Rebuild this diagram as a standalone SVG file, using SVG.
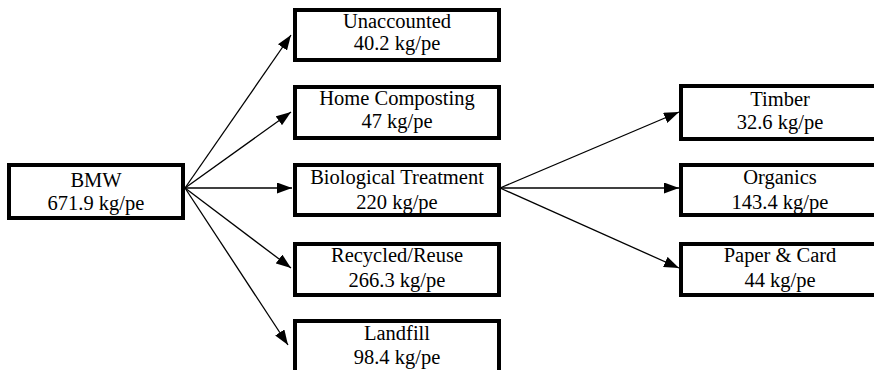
<svg xmlns="http://www.w3.org/2000/svg" width="874" height="370" viewBox="0 0 874 370">
<defs>
<style>
.box{fill:#fff;stroke:#000;stroke-width:4}
.t{font-family:"Liberation Serif","Times New Roman",serif;font-size:20.5px;fill:#000;text-anchor:middle}
.c{stroke:#000;stroke-width:1.3;fill:none;marker-end:url(#ah)}
</style>
<marker id="ah" markerUnits="userSpaceOnUse" markerWidth="15" markerHeight="11" refX="15" refY="5.5" orient="auto" viewBox="0 0 15 11">
<path d="M0,0 L15,5.5 L0,11 z" fill="#000"/>
</marker>
</defs>
<rect width="874" height="370" fill="#fff"/>
<g id="connectors">
<line class="c" x1="185" y1="188" x2="291" y2="35"/>
<line class="c" x1="185" y1="188" x2="291" y2="112"/>
<line class="c" x1="185" y1="188" x2="292" y2="188"/>
<line class="c" x1="185" y1="188" x2="291" y2="268"/>
<line class="c" x1="185" y1="188" x2="288" y2="345"/>
<line class="c" x1="500" y1="188" x2="679" y2="112"/>
<line class="c" x1="500" y1="188" x2="679" y2="188"/>
<line class="c" x1="500" y1="188" x2="679" y2="268"/>
</g>
<g id="bmw">
<rect class="box" x="9" y="165" width="174" height="53"/>
<text class="t" x="96" y="186.5">BMW</text>
<text class="t" x="96" y="210">671.9 kg/pe</text>
</g>
<g id="unaccounted">
<rect class="box" x="295" y="10" width="204" height="50"/>
<text class="t" x="397" y="27.5">Unaccounted</text>
<text class="t" x="397" y="50">40.2 kg/pe</text>
</g>
<g id="home-composting">
<rect class="box" x="295" y="87" width="204" height="51"/>
<text class="t" x="397" y="105">Home Composting</text>
<text class="t" x="397" y="128">47 kg/pe</text>
</g>
<g id="biological-treatment">
<rect class="box" x="295" y="165" width="204" height="50"/>
<text class="t" x="397" y="184">Biological Treatment</text>
<text class="t" x="397" y="208.5">220 kg/pe</text>
</g>
<g id="recycled-reuse">
<rect class="box" x="295" y="244" width="204" height="51"/>
<text class="t" x="397" y="262">Recycled/Reuse</text>
<text class="t" x="397" y="286.5">266.3 kg/pe</text>
</g>
<g id="landfill">
<rect class="box" x="295" y="321" width="204" height="60"/>
<text class="t" x="397" y="340">Landfill</text>
<text class="t" x="397" y="363.5">98.4 kg/pe</text>
</g>
<g id="timber">
<rect class="box" x="681" y="86" width="198" height="53"/>
<text class="t" x="780" y="106">Timber</text>
<text class="t" x="780" y="129">32.6 kg/pe</text>
</g>
<g id="organics">
<rect class="box" x="681" y="165" width="198" height="50"/>
<text class="t" x="780" y="184">Organics</text>
<text class="t" x="780" y="208.5">143.4 kg/pe</text>
</g>
<g id="paper-card">
<rect class="box" x="681" y="244" width="198" height="51"/>
<text class="t" x="780" y="262">Paper &amp; Card</text>
<text class="t" x="780" y="286.5">44 kg/pe</text>
</g>
</svg>
